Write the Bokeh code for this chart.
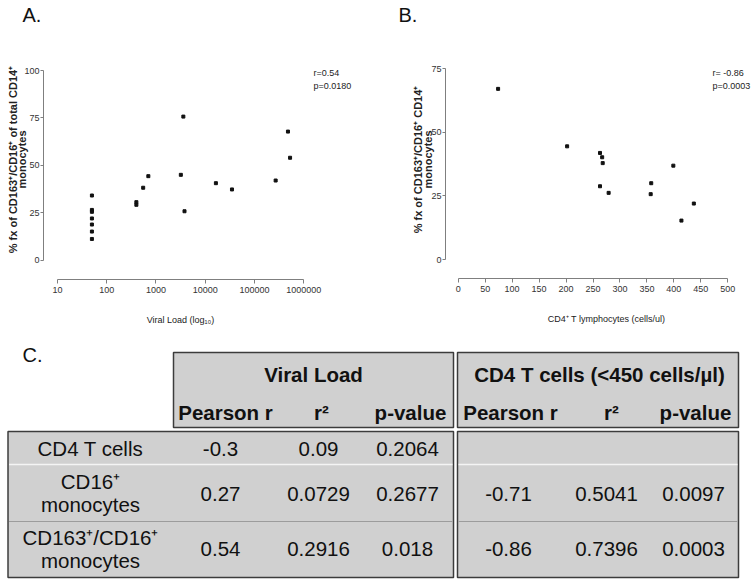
import math
from bokeh.plotting import figure
from bokeh.models import Range1d, FixedTicker, NumeralTickFormatter, Label
from bokeh.layouts import column, row
from bokeh.embed import file_html
from bokeh.resources import INLINE
from bokeh.core.properties import value

# ---------------- data ----------------
# Panel A: viral load (copies/ml) vs % CD163+/CD16+ of total CD14+ monocytes
vl_copies = [50, 50, 50, 50, 50, 50, 50, 400, 400, 550, 700, 3200, 3600, 3800,
             16500, 35000, 270000, 480000, 530000]
vl_pct = [34.1, 26.5, 25.5, 22.0, 18.8, 15.1, 11.2, 30.6, 29.2, 38.2, 44.3, 45.0,
          75.7, 25.8, 40.6, 37.3, 42.0, 67.8, 54.0]
vl_ticks = [10, 100, 1000, 10000, 100000, 1000000]
pct_ticks_a = [0, 25, 50, 75, 100]
stats_a = ["r=0.54", "p=0.0180"]

# Panel B: CD4+ T lymphocytes (cells/ul) vs % CD163+/CD16+ CD14+ monocytes
cd4_count = [74, 202, 263, 267, 268, 263, 279, 358, 357, 399, 437, 414]
cd4_pct = [67.1, 44.5, 41.9, 40.2, 37.9, 28.8, 26.2, 30.0, 25.7, 36.9, 22.0, 15.3]
cd4_ticks = [0, 50, 100, 150, 200, 250, 300, 350, 400, 450, 500]
pct_ticks_b = [0, 25, 50, 75]
stats_b = ["r= -0.86", "p=0.0003"]

# Panel C: correlation table
group_headers = ["Viral Load", "CD4 T cells (<450 cells/\u00b5l)"]
sub_headers = ["Pearson r", "r\u00b2", "p-value", "Pearson r", "r\u00b2", "p-value"]
row_line1 = ["CD4 T cells", "CD16\u207a", "CD163\u207a/CD16\u207a"]
row_line2 = ["", "monocytes", "monocytes"]
vl_r = ["-0.3", "0.27", "0.54"]
vl_r2 = ["0.09", "0.0729", "0.2916"]
vl_p = ["0.2064", "0.2677", "0.018"]
cd4_r = ["", "-0.71", "-0.86"]
cd4_r2 = ["", "0.5041", "0.7396"]
cd4_p = ["", "0.0097", "0.0003"]

# ---------------- styles ----------------
NARROW = "'Liberation Sans Narrow', 'Liberation Sans', sans-serif"
SANS = "'Liberation Sans', Arial, sans-serif"
AXIS_COLOR = "#7f7f7f"

W_A, W_B, H_TOP = 375, 376, 338
W_C, H_C = 751, 245


def style_axis(axis, ticks, bounds, tick_out, standoff):
    axis.ticker = FixedTicker(ticks=ticks)
    axis.bounds = bounds
    axis.axis_line_color = AXIS_COLOR
    axis.axis_line_width = 1
    axis.major_tick_line_color = AXIS_COLOR
    axis.minor_tick_line_color = None
    axis.major_tick_in = 0
    axis.major_tick_out = tick_out
    axis.major_label_standoff = standoff
    axis.major_label_text_font = NARROW
    axis.major_label_text_font_size = "9px"
    axis.major_label_text_color = "#333333"


def add_label(p, x, y, text, size, font=NARROW, bold=False, align="left",
              angle=0.0, color="#222222"):
    p.add_layout(Label(x=x, y=y, text=text, text_font=font, text_font_size=size,
                       text_font_style="bold" if bold else "normal",
                       text_align=align, text_baseline="middle", angle=angle,
                       text_color=color))


def base_fig(w, h, **kw):
    # the plotting frame fills the whole figure; axes are pinned inside it
    p = figure(width=w, height=h, output_backend="svg", toolbar_location=None,
               min_border=0, **kw)
    p.outline_line_color = None
    p.grid.visible = False
    p.background_fill_color = "white"
    p.border_fill_color = "white"
    return p


# ---------------- panel A ----------------
A_X10, A_DEC = 57.0, 49.23      # pixel of x=10, pixels per decade
A_Y0, A_PPU = 259.7, 1.897      # pixel of y=0, pixels per unit
A_YAXIS_PX, A_XAXIS_PX = 43, 279


def ax_(px):
    return 10 ** (1 + (px - A_X10) / A_DEC)


def ay_(py):
    return (A_Y0 - py) / A_PPU


pA = base_fig(W_A, H_TOP, x_axis_type="log",
              x_range=Range1d(ax_(0), ax_(W_A)),
              y_range=Range1d(ay_(H_TOP), ay_(0)))
xa = pA.xaxis[0]
ya = pA.yaxis[0]
style_axis(xa, vl_ticks, (vl_ticks[0], vl_ticks[-1]), 4, 3)
style_axis(ya, pct_ticks_a, (pct_ticks_a[0], pct_ticks_a[-1]), 3, 1)
xa.formatter = NumeralTickFormatter(format="0")
xa.fixed_location = ay_(A_XAXIS_PX)
ya.fixed_location = ax_(A_YAXIS_PX)

pA.scatter(vl_copies, vl_pct, marker="square", size=3, color="#111111")

add_label(pA, ax_(22), ay_(14), "A.", "20px", font=SANS, color="#111111")
add_label(pA, ax_(12), ay_(159), "% fx of CD163\u207a/CD16\u207a of total CD14\u207a",
          "11px", font=SANS, bold=True, align="center", angle=math.pi / 2)
add_label(pA, ax_(21.5), ay_(159), "monocytes", "11px", font=SANS, bold=True,
          align="center", angle=math.pi / 2)
add_label(pA, ax_(180), ay_(319), "Viral Load (log\u2081\u2080)", "9px", align="center")
add_label(pA, ax_(313), ay_(72), stats_a[0], "9px")
add_label(pA, ax_(313), ay_(85), stats_a[1], "9px")

# ---------------- panel B ----------------
B_X0, B_PPX = 82.7, 0.5392      # pixel of x=0, pixels per unit
B_Y0, B_PPY = 259.0, 2.543      # pixel of y=0, pixels per unit
B_YAXIS_PX, B_XAXIS_PX = 70, 278


def bx_(px):
    return (px - B_X0) / B_PPX


def by_(py):
    return (B_Y0 - py) / B_PPY


pB = base_fig(W_B, H_TOP,
              x_range=Range1d(bx_(0), bx_(W_B)),
              y_range=Range1d(by_(H_TOP), by_(0)))
xb = pB.xaxis[0]
yb = pB.yaxis[0]
style_axis(xb, cd4_ticks, (cd4_ticks[0], cd4_ticks[-1]), 4, 3)
style_axis(yb, pct_ticks_b, (pct_ticks_b[0], pct_ticks_b[-1]), 3, 1)
xb.fixed_location = by_(B_XAXIS_PX)
yb.fixed_location = bx_(B_YAXIS_PX)

pB.scatter(cd4_count, cd4_pct, marker="square", size=3, color="#111111")

add_label(pB, bx_(23), by_(14), "B.", "20px", font=SANS, color="#111111")
add_label(pB, bx_(42), by_(159), "% fx of CD163\u207a/CD16\u207a CD14\u207a",
          "11px", font=SANS, bold=True, align="center", angle=math.pi / 2)
add_label(pB, bx_(52), by_(159), "monocytes", "11px", font=SANS, bold=True,
          align="center", angle=math.pi / 2)
add_label(pB, bx_(231), by_(318), "CD4\u207a T lymphocytes (cells/ul)", "9px", align="center")
add_label(pB, bx_(337), by_(72), stats_b[0], "9px")
add_label(pB, bx_(337), by_(85), stats_b[1], "9px")

# ---------------- panel C (table) ----------------
pC = figure(width=W_C, height=H_C, x_range=Range1d(0, W_C), y_range=Range1d(H_C, 0),
            output_backend="svg", toolbar_location=None,
            x_axis_location=None, y_axis_location=None, min_border=0)
pC.outline_line_color = None
pC.grid.visible = False

CELL = "#d0d0d0"
EDGE = "#3c3c3c"
# header boxes and body boxes (left part / right part, split by a double rule)
pC.quad(left=[173, 457, 7.5, 457], right=[453, 738, 453, 738],
        top=[14, 14, 93, 93], bottom=[89, 89, 239, 239],
        fill_color=CELL, line_color=EDGE, line_width=1.5)
# row separators
pC.segment(x0=[8.5, 458], x1=[452, 737], y0=[126, 126], y1=[126, 126],
           line_color="#f4f4f4", line_width=1.5)
pC.segment(x0=[8.5, 458], x1=[452, 737], y0=[183, 183], y1=[183, 183],
           line_color="#9c9c9c", line_width=1)

add_label(pC, 22, 16, "C.", "20px", font=SANS, color="#111111")

FS = "20.5px"
pC.text(x=[313, 599], y=[36, 36], text=group_headers, text_font=value(SANS),
        text_font_size=FS, text_font_style="bold", text_align="center",
        text_baseline="middle", text_color="#111111")
col_x = [225, 321, 410, 510, 611, 695]
pC.text(x=col_x, y=[74] * 6, text=sub_headers, text_font=value(SANS),
        text_font_size=FS, text_font_style="bold", text_align="center",
        text_baseline="middle", text_color="#111111")

val_x = [220, 318, 407, 508, 606, 693]
row_mid = [110, 155, 210]
row_top = [110, 143, 199]
row_bot = [110, 166, 222]
lab1_y = [row_top[i] if row_line2[i] else row_mid[i] for i in range(3)]
pC.text(x=[90] * 3, y=lab1_y, text=row_line1, text_font=value(SANS),
        text_font_size=FS, text_align="center", text_baseline="middle",
        text_color="#111111")
pC.text(x=[90] * 3, y=row_bot, text=row_line2, text_font=value(SANS),
        text_font_size=FS, text_align="center", text_baseline="middle",
        text_color="#111111")
for cx, col in zip(val_x, [vl_r, vl_r2, vl_p, cd4_r, cd4_r2, cd4_p]):
    pC.text(x=[cx] * 3, y=row_mid, text=col, text_font=value(SANS),
            text_font_size=FS, text_align="center", text_baseline="middle",
            text_color="#111111")

layout = column(row(pA, pB), pC)
open("out.html", "w").write(file_html(layout, INLINE))
